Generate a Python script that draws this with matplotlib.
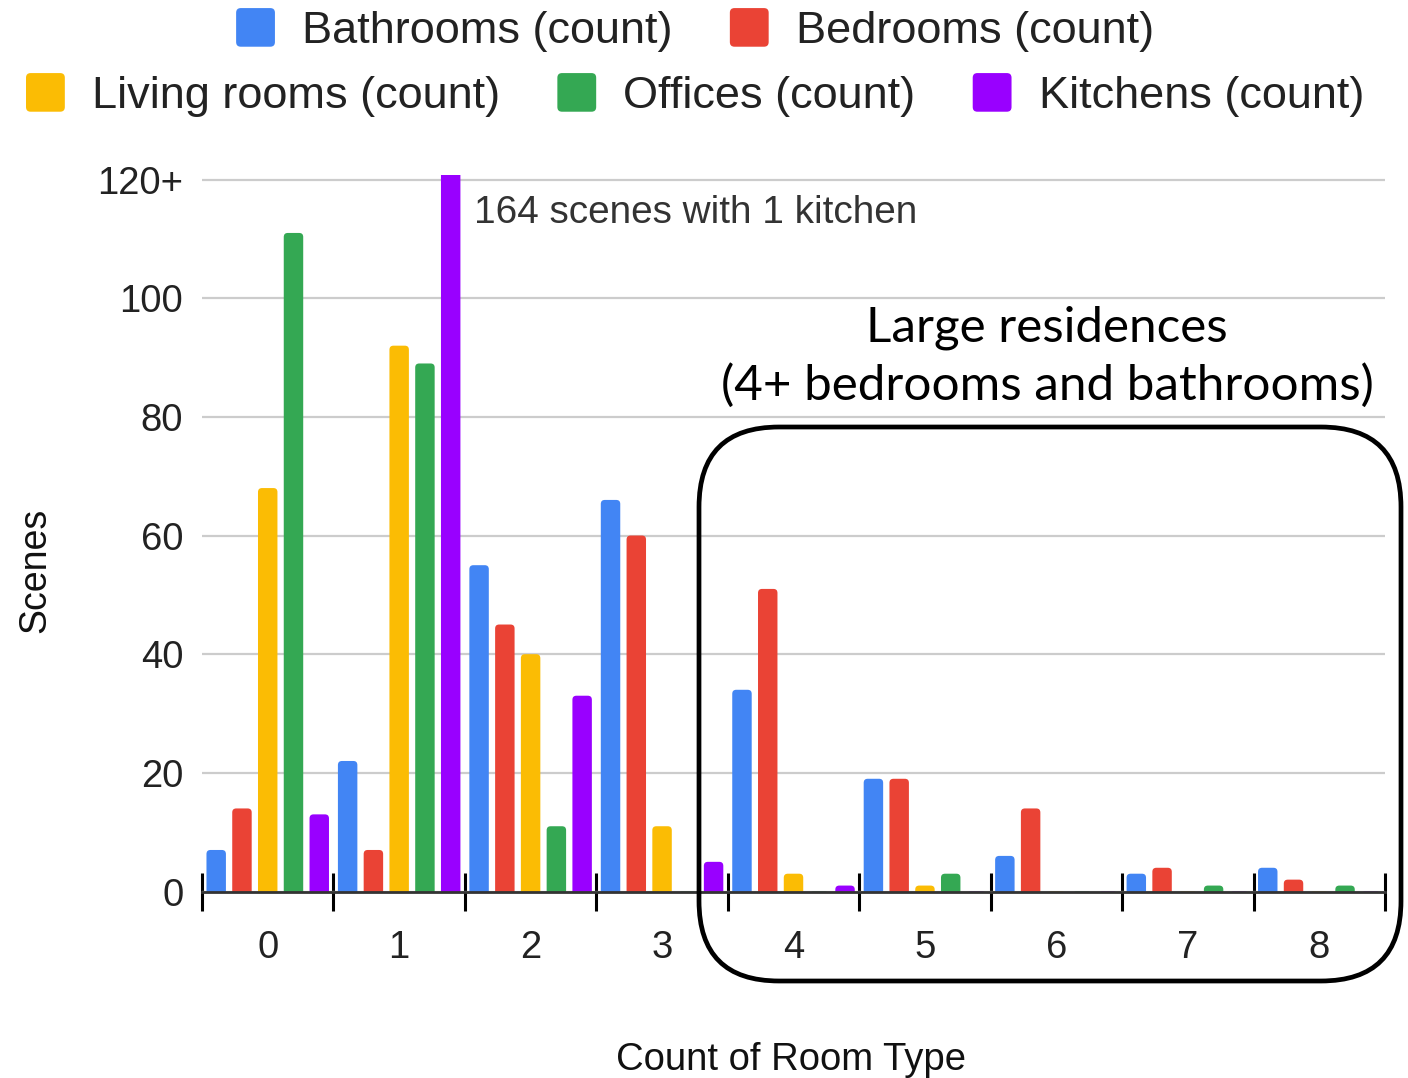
import matplotlib
matplotlib.use("Agg")
import matplotlib.pyplot as plt
import numpy as np
from matplotlib.patches import FancyBboxPatch
from matplotlib.container import BarContainer
from matplotlib.legend_handler import HandlerPatch

plt.rcParams["font.family"] = ["Liberation Sans", "DejaVu Sans"]

# Number of scenes having N rooms of each type (N = 0..8)
categories = ["0", "1", "2", "3", "4", "5", "6", "7", "8"]
series_names = ["Bathrooms (count)", "Bedrooms (count)", "Living rooms (count)",
                "Offices (count)", "Kitchens (count)"]
bathrooms = [7, 22, 55, 66, 34, 19, 6, 3, 4]
bedrooms = [14, 7, 45, 60, 51, 19, 14, 4, 2]
living_rooms = [68, 92, 40, 11, 3, 1, 0, 0, 0]
offices = [111, 89, 11, 0, 0, 3, 0, 1, 1]
kitchens = [13, 164, 33, 5, 1, 0, 0, 0, 0]
y_ticks = [0, 20, 40, 60, 80, 100, 120]
y_tick_labels = ["0", "20", "40", "60", "80", "100", "120+"]
colors = ["#4285F4", "#EA4335", "#FBBC04", "#34A853", "#9900FF"]

W, H = 1408, 1078
AX_L, AX_R, AX_B, AX_T = 202, 1385, 891.5, 175.4
fig = plt.figure(figsize=(W / 100, H / 100), dpi=100)
ax = fig.add_axes([AX_L / W, (H - AX_B) / H, (AX_R - AX_L) / W, (AX_B - AX_T) / H])

x = np.arange(len(categories))
bar_w = 0.148
step = 0.196
offsets = (np.arange(5) - 2) * step
y_max = 120.7
ax.set_xlim(-0.5, len(categories) - 0.5)
ax.set_ylim(0, y_max)

# corner radius of ~4 px expressed in each data direction
px_per_x = (AX_R - AX_L) / len(categories)
px_per_y = (AX_B - AX_T) / y_max
rx, ry = 4.0 / px_per_x, 4.0 / px_per_y

series = [bathrooms, bedrooms, living_rooms, offices, kitchens]
containers = []
for i, (name, vals, c) in enumerate(zip(series_names, series, colors)):
    bc = ax.bar(x + offsets[i], vals, width=bar_w, color=c, label=name,
                zorder=3, linewidth=0)
    containers.append(bc)
    # swap each plain bar for one with rounded top corners
    for rect in bc.patches:
        rb = FancyBboxPatch((rect.get_x(), -ry), rect.get_width(),
                            rect.get_height() + ry,
                            boxstyle=f"round,pad=0,rounding_size={rx}",
                            mutation_aspect=ry / rx, facecolor=c,
                            edgecolor="none", zorder=3)
        ax.add_patch(rb)
        rect.remove()

# y axis: gridlines only, "120+" marks the clipped top
ax.set_yticks(y_ticks)
ax.set_yticklabels(y_tick_labels)
ax.tick_params(axis="y", length=0, pad=13.5, labelsize=27.5, labelcolor="#222222")
ax.yaxis.grid(True, color="#cccccc", linewidth=1.6, zorder=0)
ax.set_axisbelow(True)

# x axis: separators between groups, labels at group centres
ax.set_xticks(np.arange(-0.5, len(categories), 1.0))
ax.set_xticklabels([])
ax.set_xticks(x, minor=True)
ax.set_xticklabels(categories, minor=True)
ax.tick_params(axis="x", which="major", direction="inout", length=27, width=2.2,
               color="black")
ax.tick_params(axis="x", which="minor", length=0, pad=27.5, labelsize=27.5,
               labelcolor="#222222")

for s in ["top", "right", "left"]:
    ax.spines[s].set_visible(False)
ax.spines["bottom"].set_color("#333333")
ax.spines["bottom"].set_linewidth(2.0)
ax.spines["bottom"].set_zorder(4)

ax.set_xlabel("Count of Room Type", fontsize=27.5, color="#111111")
ax.xaxis.label.set_va("center")
ax.xaxis.set_label_coords(0.4975, (AX_B - 1060) / (AX_B - AX_T))
ax.set_ylabel("Scenes", fontsize=27, color="#111111")
ax.yaxis.label.set_va("center")
ax.yaxis.set_label_coords((35 - AX_L) / (AX_R - AX_L), (AX_B - 570) / (AX_B - AX_T))

# note on the clipped kitchen bar
kx = x[1] + offsets[4] + bar_w / 2
ax.annotate(f"{kitchens[1]} scenes with 1 kitchen", xy=(kx, 114.4),
            xytext=(10, 0), textcoords="offset points", ha="left", va="center",
            fontsize=27.9, color="#333333")


class RoundedSwatch(HandlerPatch):
    def create_artists(self, legend, orig_handle, xdescent, ydescent, width,
                       height, fontsize, trans):
        face = orig_handle.patches[0].get_facecolor()
        p = FancyBboxPatch((-xdescent, -ydescent), width, height,
                           boxstyle=f"round,pad=0,rounding_size={0.12 * height}",
                           facecolor=face, edgecolor="none", transform=trans)
        return [p]


# legend in two centred rows
leg_kw = dict(frameon=False, fontsize=32.5, handlelength=0.86, handleheight=0.94,
              handletextpad=0.6, columnspacing=1.27, borderpad=0, borderaxespad=0,
              labelcolor="#222222", handler_map={BarContainer: RoundedSwatch()})
fig.legend(handles=containers[:2], ncol=2, loc="center",
           bbox_to_anchor=(695 / W, 1 - 30 / H), **leg_kw)
fig.legend(handles=containers[2:], ncol=3, loc="center",
           bbox_to_anchor=(695 / W, 1 - 95 / H), **leg_kw)

# highlight box for large residences
box = FancyBboxPatch((6.99, (H - 981) / 100), 7.02, 5.54,
                     boxstyle="round,pad=0,rounding_size=0.8",
                     transform=fig.dpi_scale_trans, fill=False,
                     linewidth=3.4, edgecolor="black", zorder=5)
fig.patches.append(box)
fig.text(1047 / W, 1 - 357 / H, "Large residences\n(4+ bedrooms and bathrooms)",
         ha="center", va="center", fontsize=35.6, linespacing=1.36,
         family=["Lato", "DejaVu Sans"], color="black")

fig.savefig("out.png", dpi=100)
